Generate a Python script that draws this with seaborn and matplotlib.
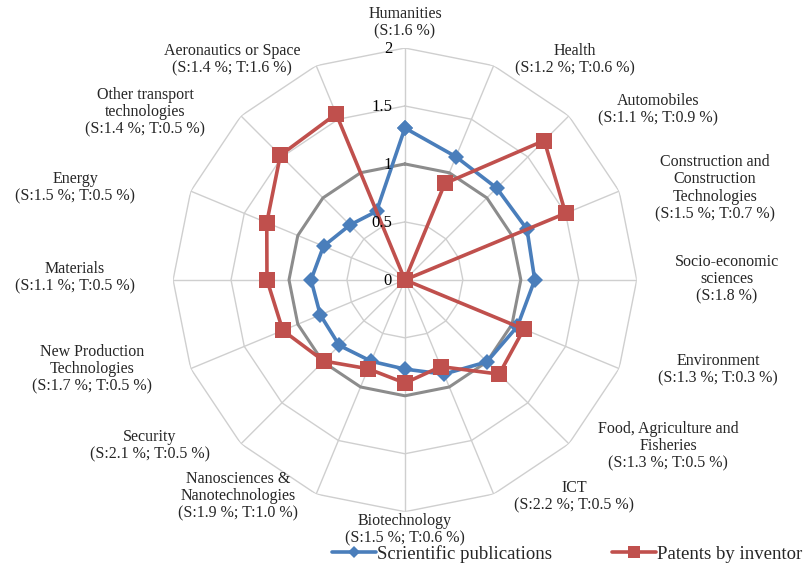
import numpy as np
import matplotlib
matplotlib.use("Agg")
import matplotlib.pyplot as plt
import seaborn as sns

sns.set_style("white")
plt.rcParams['font.family'] = ['Liberation Serif', 'DejaVu Serif']

categories = ["Humanities\n(S:1.6 %)",
              "Health\n(S:1.2 %; T:0.6 %)",
              "Automobiles\n(S:1.1 %; T:0.9 %)",
              "Construction and\nConstruction\nTechnologies\n(S:1.5 %; T:0.7 %)",
              "Socio-economic\nsciences\n(S:1.8 %)",
              "Environment\n(S:1.3 %; T:0.3 %)",
              "Food, Agriculture and\nFisheries\n(S:1.3 %; T:0.5 %)",
              "ICT\n(S:2.2 %; T:0.5 %)",
              "Biotechnology\n(S:1.5 %; T:0.6 %)",
              "Nanosciences &\nNanotechnologies\n(S:1.9 %; T:1.0 %)",
              "Security\n(S:2.1 %; T:0.5 %)",
              "New Production\nTechnologies\n(S:1.7 %; T:0.5 %)",
              "Materials\n(S:1.1 %; T:0.5 %)",
              "Energy\n(S:1.5 %; T:0.5 %)",
              "Other transport\ntechnologies\n(S:1.4 %; T:0.5 %)",
              "Aeronautics or Space\n(S:1.4 %; T:1.6 %)"]

scientific = [1.31, 1.15, 1.12, 1.14, 1.12, 1.05, 1.00, 0.88,
              0.77, 0.76, 0.80, 0.79, 0.81, 0.76, 0.67, 0.64]
patents = [0.0, 0.90, 1.70, 1.50, 0.0, 1.11, 1.15, 0.81,
           0.89, 0.83, 0.99, 1.14, 1.19, 1.29, 1.52, 1.55]
reference = [1.0] * 16
ticks = [0, 0.5, 1, 1.5, 2]
tick_labels = ["0", "0.5", "1", "1.5", "2"]
series_names = ["Scrientific publications", "Patents by inventor"]

# label centres in pixel coordinates (layout)
label_pos = [(405, 23), (575, 60), (658, 110), (715, 188), (727, 279),
             (718, 370), (668, 446), (574, 497), (405, 530), (238, 496),
             (150, 446), (92, 369), (75, 278), (75, 188), (145, 112),
             (232, 60)]

W, H = 805, 570
fig = plt.figure(figsize=(W / 100, H / 100), dpi=100)
ax = fig.add_axes([0.215, 0.102, 0.576, 0.814], projection='polar')
ax.set_theta_offset(np.pi / 2)
ax.set_theta_direction(-1)
ax.set_ylim(0, 2)
ax.set_axis_off()

n = len(categories)
theta = np.linspace(0, 2 * np.pi, n, endpoint=False)
theta_c = np.append(theta, 2 * np.pi)

grid_col = "#CFCFCF"
for t in ticks[1:]:
    ax.plot(theta_c, [t] * (n + 1), color=grid_col, lw=1.0, zorder=1)
for th in theta:
    ax.plot([th, th], [0, 2], color=grid_col, lw=1.0, zorder=1)

def closed(v):
    return np.append(np.array(v, dtype=float), v[0])

sns.lineplot(x=theta_c, y=closed(reference), sort=False, ax=ax,
             color="#8C8C8C", lw=2.2, errorbar=None, zorder=2, legend=False)
sns.lineplot(x=theta_c, y=closed(scientific), sort=False, ax=ax,
             color="#4A7EBB", lw=2.6, marker="D", markersize=8,
             mec="#4A7EBB", mew=0, errorbar=None, zorder=3,
             label=series_names[0])
sns.lineplot(x=theta_c, y=closed(patents), sort=False, ax=ax,
             color="#C0504D", lw=2.6, marker="s", markersize=11,
             mec="#C0504D", mew=0, errorbar=None, zorder=4,
             label=series_names[1])
ax.set_ylim(0, 2)
ax.get_legend().remove()

# radial tick labels
for t, lab in zip(ticks, tick_labels):
    y = 280 - t * 116 + 1
    fig.text(392 / W, 1 - y / H, lab, ha='right', va='center', fontsize=12,
             color="#000000", zorder=5)

for lab, (px, py) in zip(categories, label_pos):
    fig.text(px / W, 1 - py / H, lab, ha='center', va='center',
             multialignment='center', fontsize=11.5, linespacing=1.12)

handles, labels = ax.get_legend_handles_labels()
fig.legend(handles, labels, loc='center', bbox_to_anchor=(0.705, 0.028),
           ncol=2, frameon=False, fontsize=13.5, handlelength=2.3,
           columnspacing=3.2, handletextpad=0.1, borderpad=0,
           markerscale=0.75)

fig.savefig("out.png", dpi=100, facecolor="white")
